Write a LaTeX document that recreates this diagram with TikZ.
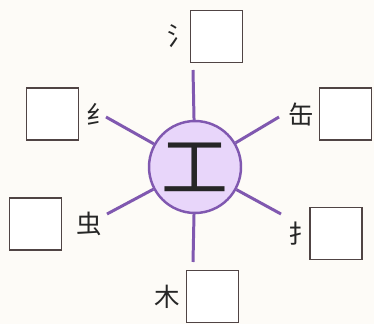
\documentclass[tikz,border=0pt]{standalone}
\usepackage{fontspec}
\newfontfamily\cjk{Noto Sans CJK SC}
\usepackage{xcolor}
\usetikzlibrary{positioning}

\definecolor{spokec}{RGB}{128,88,176}
\definecolor{discfill}{RGB}{232,214,250}
\definecolor{boxline}{RGB}{80,68,68}
\definecolor{paper}{RGB}{253,251,247}

\begin{document}
\begin{tikzpicture}[x=0.02cm,y=-0.02cm,
  answer/.style={draw=boxline,line width=1pt,fill=white,minimum size=1.04cm,inner sep=0pt},
  radical/.style={font=\cjk\fontsize{14.5}{14.5}\selectfont,text=black!85,inner sep=0pt},
  hub/.style={circle,draw=spokec,line width=1.4pt,fill=discfill,minimum size=1.84cm,inner sep=0pt,
    font=\cjk\fontsize{38}{38}\selectfont,text=black!85},
  spoke/.style={draw=spokec,line width=1.7pt}]
  \fill[paper] (0,0) rectangle (374,324);
  % centre
  \node[hub] (hub) at (195,167) {工};
  % answer boxes
  \node[answer] (top) at (216.5,36.5) {};
  \node[answer] (ul) at (52.5,114) {};
  \node[answer] (ur) at (345.5,114) {};
  \node[answer] (ll) at (35.5,224) {};
  \node[answer] (lr) at (336,233.5) {};
  \node[answer] (bot) at (212.5,296.5) {};
  % radicals
  \node[radical,left=-2pt of top] (rtop) {氵};
  \node[radical,right=4pt of ul] (rul) {纟};
  \node[radical,left=2.5pt of ur] (rur) {缶};
  \node[radical,right=8pt of ll] (rll) {虫};
  \node[radical,left=-3pt of lr] (rlr) {扌};
  \node[radical,left=3pt of bot] (rbot) {木};
  % spokes
  \coordinate (etop) at (193,70);
  \coordinate (eul) at (106,117);
  \coordinate (eur) at (279,117);
  \coordinate (ell) at (107,214);
  \coordinate (elr) at (281,214);
  \coordinate (ebot) at (193,262);
  \foreach \e in {etop,eul,eur,ell,elr,ebot}
    \draw[spoke] (hub) -- (\e);
\end{tikzpicture}
\end{document}
